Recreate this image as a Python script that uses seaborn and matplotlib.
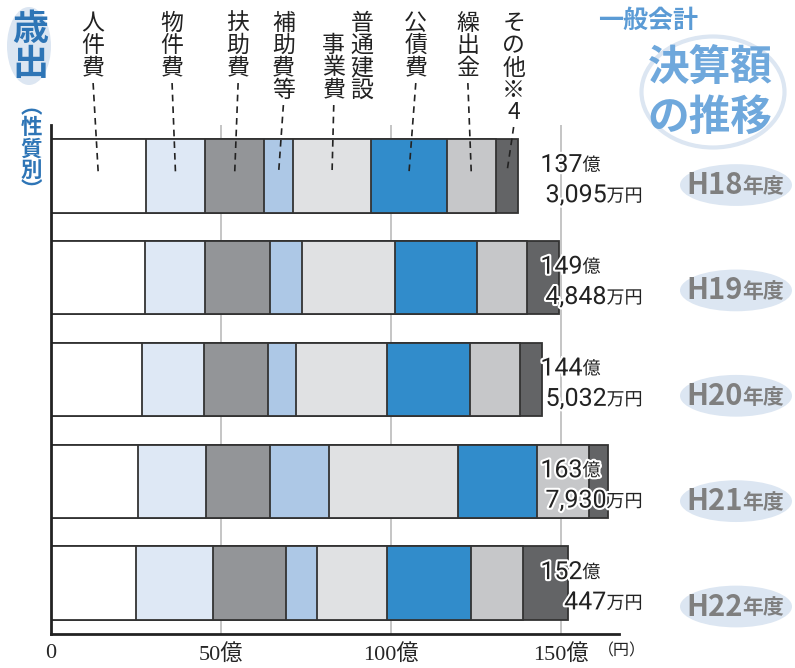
import pandas as pd
import seaborn as sns
import matplotlib.pyplot as plt
import matplotlib.patheffects as pe
import matplotlib.transforms as mtrans
from matplotlib.patches import Ellipse

sns.set_style('white')
plt.rcParams['font.family'] = ['Noto Sans CJK JP', 'DejaVu Sans']

# 決算額（億円）
years = ['H18', 'H19', 'H20', 'H21', 'H22']
categories = ['人件費', '物件費', '扶助費', '補助費等', '普通建設事業費', '公債費', '繰出金', 'その他※4']
jinken = [28.0, 27.8, 26.9, 25.7, 25.1]
bukken = [17.4, 17.6, 18.2, 19.9, 22.5]
fujo = [17.4, 19.0, 18.9, 18.8, 21.6]
hojo = [8.4, 9.5, 8.2, 17.4, 9.1]
futsuu = [23.0, 27.4, 26.7, 37.9, 20.6]
kousai = [22.2, 23.9, 24.2, 23.1, 24.5]
kuridashi = [14.4, 14.9, 14.8, 15.4, 15.4]
sonota = [6.5, 9.4, 6.5, 5.5, 13.2]
total_oku = ['137', '149', '144', '163', '152']
total_man = ['3,095', '4,848', '5,032', '7,930', '447']
xticks = [0, 50, 100, 150]
xtick_labels = ['0', '50億', '100億', '150億']

colors = ['#FFFFFF', '#DEE8F5', '#939598', '#ADC8E6', '#E0E1E3', '#318CCB', '#C6C7C9', '#636466']

df = pd.DataFrame(dict(zip(categories, [jinken, bukken, fujo, hojo, futsuu, kousai, kuridashi, sonota])))
df.insert(0, 'year', years)
cum = df[categories].cumsum(axis=1)
cum['year'] = years

fig = plt.figure(figsize=(7.95, 6.68), dpi=100)
ax = fig.add_axes([0.0636, 0.0509, 0.715, 0.762])

# 累積値を長い順に重ねて積み上げ棒にする
for cat, col in reversed(list(zip(categories, colors))):
    sns.barplot(data=cum, x=cat, y='year', orient='h', color=col, saturation=1,
                edgecolor='#333333', linewidth=1.3, width=0.72, ax=ax)

ax.set_xlim(0, 167)
ax.set_ylim(4.5, -0.5)
ax.set_xlabel('')
ax.set_ylabel('')
ax.set_yticks([])
ax.set_xticks(xticks)
ax.set_xticklabels(xtick_labels, fontsize=16, family=['Liberation Serif', 'Noto Sans CJK JP'])
ax.tick_params(axis='x', length=0, pad=7)
ax.grid(axis='x', color='#C0C0C0', lw=1.3)
ax.set_axisbelow(True)
for s in ['top', 'right']:
    ax.spines[s].set_visible(False)
for s in ['left', 'bottom']:
    ax.spines[s].set_color('#222222')
    ax.spines[s].set_linewidth(2)
fig.text(622 / 795, 1 - 651 / 668, '（円）', fontsize=11.5, ha='center', va='center', color='#222222')

# 合計額
halo = [pe.withStroke(linewidth=3, foreground='white')]
num_font = ['Roboto', 'Noto Sans CJK JP']
for i in range(len(years)):
    t1 = ax.text(143.9, i + 0.01, total_oku[i], fontsize=18, ha='left', va='bottom', color='#222222',
                 family=num_font, path_effects=halo)
    ax.annotate('億', xy=(1, 0.1), xycoords=t1, fontsize=13, ha='left', va='bottom',
                color='#222222', path_effects=halo)
    t2 = ax.text(173.9, i + 0.29, '万円', fontsize=13, ha='right', va='bottom', color='#222222',
                 path_effects=halo)
    ax.annotate(total_man[i], xy=(0, -0.1), xycoords=t2, fontsize=18, ha='right', va='bottom',
                color='#222222', family=num_font, path_effects=halo)

# 項目名（縦書き）と引き出し線
first = cum[categories].iloc[0].values
starts = [0] + list(first[:-1])
centers = [(a + b) / 2 for a, b in zip(starts, first)]
label_dx = [-1.5, -1, 1, 1.4, 0.5, 2, -1, 2]
top = -1.61
pitch = 0.216
lab_kw = dict(fontsize=16.5, ha='center', va='top', linespacing=0.96, color='#222222',
              multialignment='center')
for cat, c, dx in zip(categories, centers, label_dx):
    lx = c + dx
    if cat == '普通建設事業費':
        ax.text(lx + 8.3, top, '\n'.join('普通建設'), **lab_kw)
        ax.text(lx, top + pitch, '\n'.join('事業費'), **lab_kw)
        n = 4
    else:
        ax.text(lx, top, '\n'.join(cat), **lab_kw)
        n = len(cat)
    ax.plot([lx, c], [top + n * pitch + 0.05, -0.03], ls=(0, (4, 3)), lw=1.2,
            color='#222222', clip_on=False, zorder=5)

# 年度ラベル
yt = mtrans.blended_transform_factory(fig.transFigure, ax.transData)
for i, y in enumerate(years):
    yy = i * 1.035 + 0.09
    fig.add_artist(Ellipse((736 / 795, yy), 112 / 795, 0.41, transform=yt,
                           facecolor='#DCE6F2', edgecolor='none', zorder=-1))
    th = fig.text(686 / 795, yy, y, transform=yt, fontsize=21, fontweight='bold',
                  color='#7F7F7F', ha='left', va='center')
    fig.add_artist(plt.Annotation('年度', xy=(1, 0.5), xycoords=th, xytext=(0, -1),
                                  textcoords='offset points', fontsize=15, fontweight='bold',
                                  color='#7F7F7F', ha='left', va='center'))

# 見出し
fig.add_artist(Ellipse((29 / 795, 1 - 46 / 668), 44 / 795, 78 / 668, transform=fig.transFigure,
                       facecolor='#DCE6F2', edgecolor='none', zorder=-1))
fig.text(30 / 795, 1 - 47 / 668, '歳\n出', fontsize=26, fontweight='bold', color='#2E75B6',
         ha='center', va='center', linespacing=0.92)
fig.text(31 / 795, 1 - 149 / 668, '︵\n性\n質\n別\n︶', fontsize=15.5, fontweight='bold', color='#2E75B6',
         ha='center', va='center', linespacing=1.0)

fig.text(648 / 795, 1 - 21 / 668, '一般会計', fontsize=18, fontweight='bold', color='#5B9BD5',
         ha='center', va='center')
fig.add_artist(Ellipse((713 / 795, 1 - 92 / 668), 143 / 795, 111 / 668, transform=fig.transFigure,
                       facecolor='none', edgecolor='#DCE6F2', lw=3, zorder=-1))
fig.text(710 / 795, 1 - 68 / 668, '決算額', fontsize=30, fontweight='bold', color='#6FA8DC',
         ha='center', va='center')
fig.text(710 / 795, 1 - 118 / 668, 'の推移', fontsize=30, fontweight='bold', color='#6FA8DC',
         ha='center', va='center')

fig.savefig('out.png', dpi=100)
